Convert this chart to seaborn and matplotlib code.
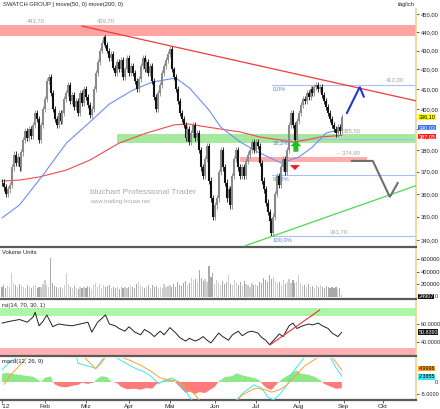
import numpy as np
import pandas as pd
import matplotlib
matplotlib.use('Agg')
import matplotlib.pyplot as plt
import matplotlib.transforms as mtransforms
from matplotlib.ticker import NullLocator, NullFormatter
import seaborn as sns

# ---------------- data ----------------
closes = [365, 363, 360, 362, 364, 372, 378, 374, 377, 372, 379, 385, 389, 386, 390, 387, 392, 398, 395, 385,
          392, 400, 405, 414, 416, 408, 400, 395, 392, 398, 394, 398, 405, 408, 412, 404, 407, 401, 404, 398,
          408, 403, 410, 406, 402, 397, 400, 410, 418, 424, 430, 434, 437, 433, 430, 426, 428, 421, 418, 424,
          420, 425, 416, 420, 426, 418, 422, 418, 414, 410, 415, 422, 426, 420, 424, 418, 422, 414, 406, 400,
          408, 412, 418, 422, 425, 428, 431, 420, 416, 410, 404, 398, 395, 392, 386, 390, 384, 388, 392, 386,
          388, 380, 372, 368, 376, 382, 366, 358, 350, 355, 358, 370, 380, 372, 365, 358, 362, 355, 368, 376,
          380, 372, 368, 372, 368, 375, 378, 380, 384, 380, 384, 382, 374, 366, 362, 356, 352, 348, 343, 350,
          360, 368, 364, 372, 376, 370, 380, 392, 398, 392, 385, 394, 398, 402, 405, 404, 408, 406, 410, 408,
          411, 412, 410, 411, 407, 404, 401, 398, 395, 392, 390, 388, 391, 389, 396.1]

volume_k = [150, 180, 140, 170, 160, 370, 220, 180, 150, 200, 170, 160, 140, 190, 150, 130, 170, 180, 140, 160, 150, 200,
            265, 180, 160, 610, 220, 170, 150, 130, 160, 140, 180, 370, 200, 150, 140, 170, 130, 120, 160, 140, 150,
            130, 170, 150, 120, 180, 220, 160, 200, 140, 180, 150, 170, 190, 140, 160, 130, 150, 120, 170, 140, 160, 130,
            150, 180, 160, 140, 200, 230, 170, 150, 130, 160, 180, 140, 190, 150, 170, 130, 160, 140, 200, 150, 170,
            180, 150, 200, 160, 230, 180, 170, 210, 250, 190, 220, 300, 260, 280, 240, 420, 300, 250, 280, 230, 490, 320, 380,
            200, 260, 220, 180, 250, 200, 230, 350, 200, 180, 260, 210, 190, 230, 170, 250, 200, 180, 160, 220, 190,
            200, 170, 230, 210, 300, 260, 240, 350, 280, 320, 250, 210, 230, 190, 260, 200, 240, 280, 220, 260, 210, 230, 350,
            210, 170, 190, 160, 200, 150, 170, 140, 180, 150, 190, 160, 140, 170, 150, 130, 160, 140, 150, 120, 130, 24.907]

ma50_idx = [0, 9, 21, 33, 45, 55, 67, 77, 89, 96, 106, 112, 122, 132, 143, 152, 159, 166, 174]
ma50_val = [349.4, 355.1, 368.5, 383.4, 393.5, 402.4, 409.4, 413.5, 415.6, 410.5, 399.4, 391.1, 383.9, 378.7,
            374.0, 376.8, 381.5, 388.2, 390.03]
ma200_idx = [0, 9, 19, 33, 45, 60, 74, 88, 95, 105, 112, 122, 132, 142, 149, 156, 163, 174]
ma200_val = [365.8, 366.2, 367.6, 370.8, 375.4, 383.4, 388.2, 392.1, 392.6, 391.1, 390.1, 388.7, 386.3, 384.9,
             383.9, 384.9, 386.3, 387.05]

rsi_idx = [0, 4, 9, 13, 16, 17, 19, 21, 23, 26, 29, 32, 36, 40, 44, 46, 49, 51, 53, 55, 58, 60, 63, 65, 68, 71, 73,
           76, 78, 81, 83, 86, 89, 91, 94, 96, 99, 101, 103, 105, 107, 111, 113, 116, 118, 121, 123, 126, 128, 131,
           133, 135, 137, 140, 142, 144, 147, 149, 151, 154, 157, 159, 162, 164, 167, 169, 172, 174]
rsi_val = [61, 63, 65, 62, 68, 73, 58, 63, 70, 57, 60, 59, 58, 60, 62, 51, 62, 66, 70, 60, 58, 55, 52, 57, 51, 48, 54,
           50, 46, 52, 48, 56, 50, 45, 41, 44, 41, 43, 46, 42, 39, 50, 46, 42, 48, 52, 47, 51, 52, 50,
           45, 42, 37, 44, 49, 46, 58, 61, 55, 58, 60, 59, 61, 58, 55, 50, 46, 50.84]

macd_idx = [0, 4, 8, 14, 30, 38, 39, 43, 48, 52, 55, 59, 63, 68, 73, 77, 80, 83, 87, 90, 94, 96, 99, 106, 114, 120,
            124, 129, 133, 136, 139, 142, 146, 149, 153, 155, 160, 165, 168, 171, 174]
macd_val = [5, 8.3, 10.4, 14, 14, 11, 7.8, 6.9, 5.7, 10, 13, 10, 8, 5.8, 4.2, 2, -0.8, 0.4, 1.7, 0, -3.3, -6.3, -9,
            -12, -10, -7.5, -4.2, -1.2, -2.5, -6.2, -7.5, -5.4, -1.2, 4.2, 8.3, 10.4, 13, 12, 10.4, 6, 2.3855]
signal_idx = [1, 4, 8, 13, 19, 40, 42, 45, 48, 51, 53, 60, 61, 65, 71, 76, 81, 86, 90, 94, 98, 101, 106, 119, 123,
              127, 130, 135, 138, 142, 146, 151, 155, 159, 162, 165, 169, 174]
signal_val = [-1, 2.5, 6, 10.4, 13, 12, 10.4, 8, 5.5, 8, 10.4, 12, 10.4, 9.2, 7, 4.6, 1.7, 0.8, 0.4, -1.7, -4.6,
              -7.5, -10, -9, -5.4, -3.7, -2.5, -3.3, -4.2, -3.3, -1.2, 3.3, 6.7, 8.8, 10.4, 12, 10.4, 4.9996]
hist_idx = [0, 3, 7, 9, 13, 16, 18, 20, 22, 25, 26, 27, 30, 33, 36, 39, 41, 44, 47, 49, 51, 54, 56, 59, 61, 64, 68,
            71, 74, 77, 79, 82, 84, 87, 89, 91, 94, 96, 99, 101, 104, 106, 109, 111, 114, 118, 120, 123, 127, 130,
            132, 134, 136, 138, 140, 142, 144, 146, 149, 151, 153, 157, 160, 163, 165, 168, 171, 174]
hist_val = [3.5, 3.8, 3.2, 3.0, 2.5, 2.2, 1.2, 0, 1.8, 2.3, 0.3, -1.0, -2.0, -2.2, -1.6, -1.2, -0.3, -0.8, -0.2, 1.5,
            2.4, 2.0, 0.2, -0.5, -2.0, -3.0, -2.8, -3.2, -2.5, -2.8, -1.0, 0.5, 1.3, 1.0, -0.3, -2.0, -4.5, -4.0,
            -5.0, -4.2, -4.6, -3.5, -2.0, 0.3, 2.0, 2.5, 3.6, 2.8, 2.0, 1.5, 0.5, -1.5, -2.8, -3.3, -1.5, 0.3, 1.5,
            2.5, 4.0, 4.8, 3.5, 3.0, 2.2, 0.8, -0.8, -1.8, -2.8, -2.6]

# chart drawings (index of trading day, price)
res_band = [437.8, 443.7]
sup_band = [383.5, 387.5]
sup_band_x = [59, 212]
mid_band = [374.5, 377.0]
mid_band_x = [122, 187]
res_line_x = [41, 212]
res_line_y = [443.2, 404.0]
sup_line_x = [124.3, 212]
sup_line_y = [337.5, 363.7]
fib_levels = [412.0, 385.14, 368.55, 341.7]
fib_labels = ['0,0%', '38,2%', '61,8%', '100,0%']
fib_start = 138.5
blue_path_x = [176.6, 183.2, 185.3]
blue_path_y = [397.9, 411.0, 406.0]
gray_path_x = [179.1, 189.9, 198.6, 202.7]
gray_path_y = [375.0, 375.0, 358.6, 365.0]
price_ticks = [340, 350, 360, 370, 380, 390, 400, 410, 420, 430, 440, 450]
hidden_ticks = [390]          # covered by the value boxes in the reference
month_names = ["'12", 'Feb', 'Mrz', 'Apr', 'Mai', 'Jun', 'Jul', 'Aug', 'Sep', 'Okt']

# ---------------- figure ----------------
sns.set_style('white')
plt.rcParams['font.family'] = ['Liberation Sans', 'DejaVu Sans']

W, H = 440, 409
fig = plt.figure(figsize=(W / 100, H / 100), dpi=100)
fig.patch.set_facecolor('white')


def rect(x0, y0, x1, y1):
    return [x0 / W, 1 - y1 / H, (x1 - x0) / W, (y1 - y0) / H]


ax = fig.add_axes(rect(0, 9, 416, 247))
axv = fig.add_axes(rect(0, 249, 416, 299))
axr = fig.add_axes(rect(0, 301, 416, 356))
axm = fig.add_axes(rect(0, 358, 416, 400))

XMIN, XMAX = -1.0, 212.0
TS = 4.2

n = len(closes)
idx = np.arange(n)
c = np.array(closes, float)
o = np.r_[c[0], c[:-1]]
wick = 1.5
hi = np.maximum(o, c) + wick
lo = np.minimum(o, c) - wick
up = c > o
bar_col = np.where(up, '#8a8a8a', '#111111')

dates = pd.bdate_range('2012-01-02', periods=215)
month_pos = [0] + [i for i in range(1, len(dates)) if dates[i].month != dates[i - 1].month]
month_pos = [p for p in month_pos if p < XMAX][:len(month_names)]


def style_axis(a):
    a.set_facecolor('white')
    a.spines['left'].set_visible(False)
    a.spines['top'].set_visible(False)
    a.spines['right'].set_color('#ecd48c')
    a.spines['right'].set_linewidth(1.2)
    a.spines['bottom'].set_color('#5a5a5a')
    a.spines['bottom'].set_linewidth(1.6)
    a.set_xlim(XMIN, XMAX)
    a.yaxis.tick_right()
    a.tick_params(axis='y', labelsize=TS, length=2, width=0.5, pad=1.2, colors='#222222')
    a.tick_params(axis='x', bottom=False, labelbottom=False)
    a.set_xlabel('')
    a.set_ylabel('')


def rlabel(a, y, s, fc, tc='black', x=1.006, size=TS):
    tr = mtransforms.blended_transform_factory(a.transAxes, a.transData)
    a.text(x, y, s, transform=tr, fontsize=size, color=tc, va='center', ha='left',
           bbox=dict(boxstyle='square,pad=0.05', fc=fc, ec='none'), zorder=10, clip_on=False)


# ---- main price panel ----
ax.set_yscale('log')
ax.set_ylim(337.06, 452.7)
ax.axhspan(res_band[0], res_band[1], color='#ffa3a3', lw=0, zorder=0)
ax.fill_between(sup_band_x, sup_band[0], sup_band[1], color='#a6e89e', lw=0, zorder=0)
ax.fill_between(mid_band_x, mid_band[0], mid_band[1], color='#ffacac', lw=0, zorder=0)
for lvl, lab in zip(fib_levels, fib_labels):
    ax.plot([fib_start, XMAX], [lvl, lvl], color='#a9bff5', lw=0.8, zorder=1)
    ax.annotate(lab, (fib_start, lvl), xytext=(0, -0.8), textcoords='offset points',
                color='#5b7fe0', fontsize=TS, va='top', ha='left')

sns.lineplot(x=ma200_idx, y=ma200_val, ax=ax, color='#f24a4a', lw=0.8, zorder=2)
sns.lineplot(x=ma50_idx, y=ma50_val, ax=ax, color='#6d8ff2', lw=0.8, zorder=2)

ax.vlines(idx, lo, hi, colors=bar_col, lw=0.6, zorder=3)
ax.vlines(idx, np.minimum(o, c), np.maximum(o, c), colors=bar_col, lw=1.5, zorder=3)

ax.plot(res_line_x, res_line_y, color='#f23a3a', lw=0.9, zorder=4)
ax.plot(sup_line_x, sup_line_y, color='#4fd84f', lw=0.9, zorder=4)
ax.plot(gray_path_x, gray_path_y, color='#6e6e6e', lw=1.5, zorder=4, solid_joinstyle='miter')
ax.plot(blue_path_x, blue_path_y, color='#2236c8', lw=1.5, zorder=4, solid_joinstyle='miter')

ax.annotate('', xy=(150.5, 386.0), xytext=(150.5, 378.0),
            arrowprops=dict(arrowstyle='simple,head_length=0.7,head_width=1.3,tail_width=0.6',
                            color='#1fbf1f', lw=0, mutation_scale=6), zorder=5)
ax.annotate('', xy=(150.0, 369.5), xytext=(150.0, 374.3),
            arrowprops=dict(arrowstyle='simple,head_length=0.6,head_width=1.2,tail_width=0.45',
                            color='#e82020', lw=0, mutation_scale=6), zorder=5)

gray_txt = '#a0a0a0'
ax.text(12.8, 446.3, '443,70', fontsize=TS, color=gray_txt, ha='left', va='center')
ax.text(48.6, 446.3, '439,70', fontsize=TS, color=gray_txt, ha='left', va='center')
ax.text(196.5, 414.6, '412,00', fontsize=TS, color=gray_txt, ha='left', va='center')
ax.text(168.0, 343.4, '341,70', fontsize=TS, color=gray_txt, ha='left', va='center')
ax.text(174.5, 389.2, '385,50', fontsize=TS, color=gray_txt, ha='left', va='center')
ax.text(171.5, 378.7, '~ 374,90', fontsize=TS, color=gray_txt, ha='left', va='center')
ax.text(45, 360.8, 'bluchart Professional Trader', fontsize=6.0, color='#a8a8a8', ha='left', va='center')
ax.text(45, 356.6, 'www.trading-house.net', fontsize=4.2, color='#a8a8a8', ha='left', va='center')

style_axis(ax)
ax.set_yticks(price_ticks)
ax.set_yticklabels(['' if t in hidden_ticks else f'{t},00' for t in price_ticks])
ax.yaxis.set_minor_locator(NullLocator())
ax.yaxis.set_minor_formatter(NullFormatter())
ax.set_ylim(337.06, 452.7)
rlabel(ax, 396.1, '396,10', '#ffff00', size=4.0)
rlabel(ax, 390.9, '390,03', '#3a6ff0', 'white', size=4.0)
rlabel(ax, 386.5, '387,05', '#ff2020', 'white', size=4.0)

fig.text(3 / W, 1 - 4.5 / H, 'SWATCH GROUP | move(50, 0) move(200, 0)', fontsize=TS, va='center', ha='left')
fig.text(398 / W, 1 - 4.5 / H, 'täglich', fontsize=TS, va='center', ha='left')

# ---- volume ----
vol = np.array(volume_k) * 1000
vol_col = np.where(up, '#cdcdcd', '#a9a9a9')
axv.bar(idx, vol, width=0.6, color=vol_col, lw=0)
style_axis(axv)
axv.set_ylim(-40000, 760000)
axv.set_yticks([200000, 400000, 600000])
axv.set_yticklabels(['200000', '400000', '600000'])
axv.text(0.004, 0.97, 'Volume Units', transform=axv.transAxes, fontsize=TS, va='top', ha='left')
rlabel(axv, 0, '24907', '#111111', 'white', size=4.0)
axv.text(1.044, 0, '0', transform=mtransforms.blended_transform_factory(axv.transAxes, axv.transData),
         fontsize=4.0, va='center', ha='left')

# ---- RSI ----
axr.axhspan(69, 78, color='#aef5a8', lw=0, zorder=0)
axr.axhspan(24.4, 33.3, color='#ffb0b0', lw=0, zorder=0)
sns.lineplot(x=rsi_idx, y=rsi_val, ax=axr, color='#222222', lw=0.7, zorder=3)
axr.plot([137.2, 162.7], [36.7, 75.6], color='#ee3030', lw=0.8, zorder=4)
style_axis(axr)
axr.set_ylim(24.4, 85.6)
axr.set_yticks([40, 60])
axr.set_yticklabels(['40.0000', '60.0000'])
axr.tick_params(axis='y', labelsize=3.9)
axr.text(0.004, 0.97, 'rsi(14, 70, 30, 1)', transform=axr.transAxes, fontsize=TS, va='top', ha='left')
rlabel(axr, 50.84, '50.8393', '#111111', 'white', size=3.9)

# ---- MACD ----
hx = np.array(hist_idx, float)
hv = np.array(hist_val, float)
axm.fill_between(hx, 0, hv, where=hv >= 0, interpolate=True, color='#8ee88a', lw=0, zorder=1)
axm.fill_between(hx, 0, hv, where=hv <= 0, interpolate=True, color='#ff7b7b', lw=0, zorder=1)
sns.lineplot(x=macd_idx, y=macd_val, ax=axm, color='#3ee6f2', lw=0.7, zorder=3)
sns.lineplot(x=signal_idx, y=signal_val, ax=axm, color='#ffa033', lw=0.7, zorder=3)
style_axis(axm)
axm.set_ylim(-7.5, 10.0)
axm.set_yticks([-5])
axm.set_yticklabels(['-5.0000'])
axm.tick_params(axis='y', labelsize=3.9)
axm.text(0.004, 0.97, 'macd(12, 26, 9)', transform=axm.transAxes, fontsize=TS, va='top', ha='left')
rlabel(axm, 5.6, '4.9996', '#ffa020', size=3.9)
rlabel(axm, 2.1, '2.3855', '#3ee6f2', size=3.9)
axm.text(1.044, 0, '0', transform=mtransforms.blended_transform_factory(axm.transAxes, axm.transData),
         fontsize=4.0, va='center', ha='left')
axm.tick_params(axis='x', bottom=True, labelbottom=True, labelsize=4.6, length=2, width=0.5, pad=1)
axm.set_xticks(month_pos)
axm.set_xticklabels(month_names[:len(month_pos)])
for lab in axm.get_xticklabels()[:1]:
    lab.set_ha('left')

fig.savefig('out.png', dpi=100, facecolor='white')
